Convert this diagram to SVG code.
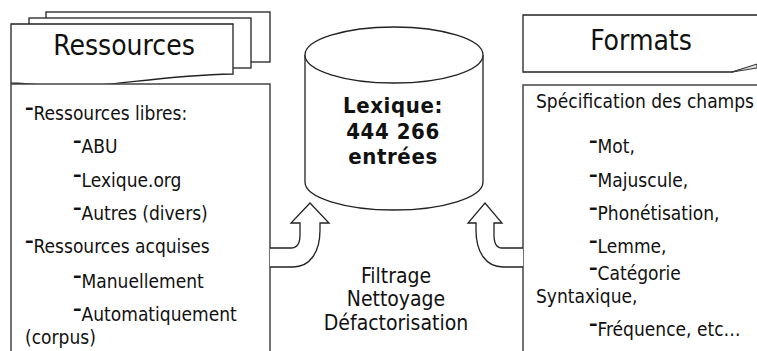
<svg xmlns="http://www.w3.org/2000/svg" width="757" height="351" viewBox="0 0 757 351">
<style>
.ln{fill:#fff;stroke:#222;stroke-width:1.3}
.bx{fill:#fff;stroke:#444;stroke-width:1.5}
text{font-family:"DejaVu Sans Condensed","DejaVu Sans",sans-serif;font-stretch:condensed;fill:#111}
.t{font-size:19px}
.d{font-weight:bold}
.h{font-size:28px;text-anchor:middle}
.b{font-size:22px;font-weight:bold;font-stretch:normal;letter-spacing:0.6px;text-anchor:middle}
.m{font-size:21px;text-anchor:middle}
</style>
<rect width="757" height="351" fill="#fff"/>
<g id="ressources-header">
<rect class="ln" x="46" y="12" width="224" height="50"/>
<rect class="ln" x="29" y="18" width="222" height="50"/>
<path class="ln" d="M11,24 H233 V74 C150,76 110,88 60,86 C35,85 20,83 11,83 Z"/>
<text class="h" x="124" y="55">Ressources</text>
</g>
<g id="ressources-box">
<rect class="bx" x="11" y="84" width="259" height="300"/>
<text class="t" x="25" y="120"><tspan class="d" dy="-6">–</tspan><tspan dy="6">Ressources libres:</tspan></text>
<text class="t" x="73" y="153"><tspan class="d" dy="-6">–</tspan><tspan dy="6">ABU</tspan></text>
<text class="t" x="73" y="187"><tspan class="d" dy="-6">–</tspan><tspan dy="6">Lexique.org</tspan></text>
<text class="t" x="73" y="220"><tspan class="d" dy="-6">–</tspan><tspan dy="6">Autres (divers)</tspan></text>
<text class="t" x="25" y="253"><tspan class="d" dy="-6">–</tspan><tspan dy="6">Ressources acquises</tspan></text>
<text class="t" x="73" y="288"><tspan class="d" dy="-6">–</tspan><tspan dy="6">Manuellement</tspan></text>
<text class="t" x="73" y="321"><tspan class="d" dy="-6">–</tspan><tspan dy="6">Automatiquement</tspan></text>
<text class="t" x="25" y="344">(corpus)</text>
</g>
<g id="lexique">
<path class="ln" d="M305,55 V182 A89,28 0 0 0 483,182 V55"/>
<ellipse class="ln" cx="394" cy="55" rx="89" ry="28"/>
<text class="b" x="393" y="113">Lexique:</text>
<text class="b" x="393" y="139">444 266</text>
<text class="b" x="393" y="164">entrées</text>
</g>
<g id="formats-header">
<path class="ln" d="M523,15 H760 V64 L732,72 H523 Z"/>
<path d="M732,72 L757,64 L757,68 Z" fill="#ddd" stroke="#333" stroke-width="1"/>
<text class="h" x="641" y="50">Formats</text>
</g>
<g id="formats-box">
<rect class="bx" x="523" y="85" width="260" height="300"/>
<text class="t" x="536" y="108">Spécification des champs</text>
<text class="t" x="589" y="153"><tspan class="d" dy="-6">–</tspan><tspan dy="6">Mot,</tspan></text>
<text class="t" x="589" y="187"><tspan class="d" dy="-6">–</tspan><tspan dy="6">Majuscule,</tspan></text>
<text class="t" x="589" y="220"><tspan class="d" dy="-6">–</tspan><tspan dy="6">Phonétisation,</tspan></text>
<text class="t" x="589" y="253"><tspan class="d" dy="-6">–</tspan><tspan dy="6">Lemme,</tspan></text>
<text class="t" x="589" y="280"><tspan class="d" dy="-6">–</tspan><tspan dy="6">Catégorie</tspan></text>
<text class="t" x="536" y="303">Syntaxique,</text>
<text class="t" x="589" y="336"><tspan class="d" dy="-6">–</tspan><tspan dy="6">Fréquence, etc…</tspan></text>
</g>
<g id="connectors">
<path class="ln" d="M270,248 H291 C298,248 300,243 300,235 V223 H291 L310,203 L329,223 H320 V230 C320,252 310,267 293,267 H270"/>
<path class="ln" d="M523,248 H502 C496,248 494,243 494,235 V223 H502 L485,203 L468,223 H476 V230 C476,252 486,267 503,267 H523"/>
</g>
<g id="process-label">
<text class="m" x="396" y="283">Filtrage</text>
<text class="m" x="396" y="306">Nettoyage</text>
<text class="m" x="396" y="330">Défactorisation</text>
</g>
</svg>
